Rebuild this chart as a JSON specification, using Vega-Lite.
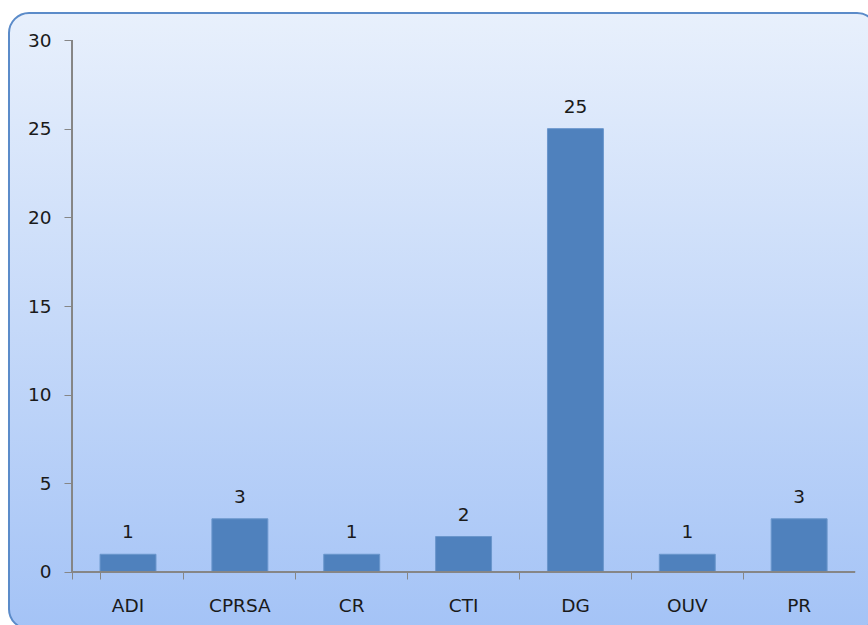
{
  "$schema": "https://vega.github.io/schema/vega-lite/v6.json",
  "autosize": "none",
  "width": 868,
  "height": 616,
  "padding": {"left": 9, "top": 13, "right": 0, "bottom": 0},
  "background": "white",
  "data": {"values": [
    {"cat": "ADI", "value": 1},
    {"cat": "CPRSA", "value": 3},
    {"cat": "CR", "value": 1},
    {"cat": "CTI", "value": 2},
    {"cat": "DG", "value": 25},
    {"cat": "OUV", "value": 1},
    {"cat": "PR", "value": 3}
  ]},
  "layer": [
    {
      "mark": {"type": "bar", "color": "#4f81bd", "stroke": "#6a96cc", "strokeWidth": 1},
      "encoding": {
        "x": {"field": "cat", "type": "nominal", "sort": null,
          "scale": {"paddingInner": 0.5, "paddingOuter": 0.63, "align": 0.646},
          "axis": {"orient": "bottom", "offset": -57, "title": null, "domain": false, "grid": false,
            "bandPosition": -0.5, "tickExtra": true, "tickSize": 7, "tickColor": "#868686", "labelAngle": 0,
            "labelPadding": 17, "labelFont": "DejaVu Sans", "labelFontSize": 18.5, "labelColor": "#1a1a1a"}},
        "y": {"field": "value", "type": "quantitative",
          "scale": {"domain": [-3.2143, 31.5226], "nice": false, "zero": false},
          "axis": {"orient": "left", "offset": -63, "title": null, "domain": false, "grid": false,
            "values": [0, 5, 10, 15, 20, 25, 30], "tickSize": 8, "tickColor": "#868686",
            "labelPadding": 13, "labelFont": "DejaVu Sans", "labelFontSize": 18.5, "labelColor": "#1a1a1a"}},
        "y2": {"datum": 0}
      }
    },
    {
      "mark": {"type": "text", "font": "DejaVu Sans", "fontSize": 18.5, "color": "#1a1a1a", "baseline": "alphabetic", "dy": -16},
      "encoding": {
        "x": {"field": "cat", "type": "nominal", "sort": null},
        "y": {"field": "value", "type": "quantitative"},
        "text": {"field": "value", "type": "quantitative"}
      }
    },
    {
      "mark": {"type": "rule", "color": "#868686", "strokeWidth": 1},
      "encoding": {
        "x": {"datum": "ADI", "type": "nominal", "bandPosition": -0.5},
        "y": {"datum": 0, "type": "quantitative"},
        "y2": {"datum": 30}
      }
    },
    {
      "mark": {"type": "rule", "color": "#868686", "strokeWidth": 1},
      "encoding": {
        "x": {"datum": "ADI", "type": "nominal", "bandPosition": -0.5},
        "x2": {"datum": "PR", "bandPosition": 1.5},
        "y": {"datum": 0, "type": "quantitative"}
      }
    }
  ],
  "config": {
    "view": {
      "fill": {"gradient": "linear", "x1": 0, "y1": 0, "x2": 0, "y2": 1,
        "stops": [{"offset": 0, "color": "#e8f0fc"}, {"offset": 1, "color": "#a4c3f6"}]},
      "stroke": "#5b8bc9", "strokeWidth": 2, "cornerRadius": 20
    }
  }
}
